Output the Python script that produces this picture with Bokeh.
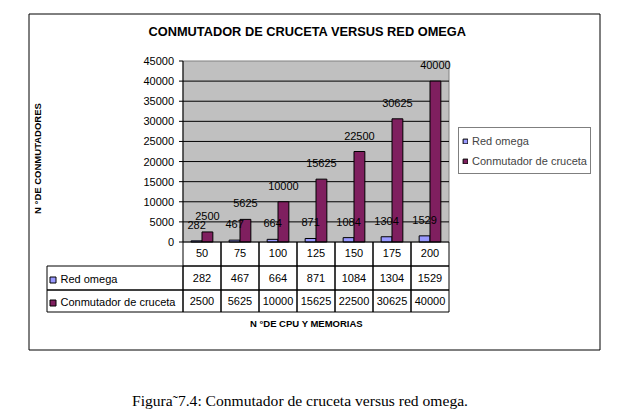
import math
from bokeh.plotting import figure
from bokeh.core.properties import value
from bokeh.models import (ColumnDataSource, Range1d, LabelSet, Label, Legend, LegendItem)
from bokeh.transform import dodge
from bokeh.embed import file_html
from bokeh.resources import INLINE

# ---------------- data ----------------
categories = ["50", "75", "100", "125", "150", "175", "200"]
red_omega = [282, 467, 664, 871, 1084, 1304, 1529]
crossbar = [2500, 5625, 10000, 15625, 22500, 30625, 40000]
y_ticks = [0, 5000, 10000, 15000, 20000, 25000, 30000, 35000, 40000, 45000]
grid_ticks = [5000, 10000, 15000, 20000, 25000, 30000, 35000, 40000]
series_names = ["Red omega", "Conmutador de cruceta"]
title_text = "CONMUTADOR DE CRUCETA VERSUS RED OMEGA"
y_title = "N \u00b0DE CONMUTADORES"
x_title = "N \u00b0DE CPU Y MEMORIAS"
caption_text = "Figura\u02dc7.4: Conmutador de cruceta versus red omega."

# ---------------- layout / style ----------------
W, H = 625, 416
PL, PR, PT, PB = 182.5, 448.5, 60.5, 241.5     # plot area in canvas pixels
YMAX = y_ticks[-1]
BLUE = "#9999FF"
PURPLE = "#7F1F5F"
FONT = "Liberation Sans"
SERIF = "Liberation Serif"
BAR_W = 1 / 3.5
n = len(categories)

# the frame covers the whole canvas; default ranges are canvas pixels (y downwards)
p = figure(width=W, height=H, x_range=Range1d(0, W), y_range=Range1d(H, 0),
           output_backend="svg", toolbar_location=None,
           x_axis_type=None, y_axis_type=None, min_border=0)
p.outline_line_color = None
p.background_fill_color = "white"
p.border_fill_color = "white"

# data ranges mapped onto the plot-area rectangle
kx = n / (PR - PL)
ky = YMAX / (PB - PT)
p.extra_x_ranges = {"cat": Range1d(-PL * kx, (W - PL) * kx)}
p.extra_y_ranges = {"val": Range1d((PB - H) * ky, PB * ky)}
CV = dict(x_range_name="cat", y_range_name="val")

src = ColumnDataSource(dict(
    cat=categories, xc=[i + 0.5 for i in range(n)], red=red_omega, cross=crossbar,
    red_s=[str(v) for v in red_omega], cross_s=[str(v) for v in crossbar],
))
tick_src = ColumnDataSource(dict(y=y_ticks, s=[str(t) for t in y_ticks]))
grid_src = ColumnDataSource(dict(y=grid_ticks))

# plot area
p.quad(left=0, right=n, bottom=0, top=YMAX, fill_color="#C0C0C0",
       line_color="#808080", line_width=1, **CV)
# gridlines
p.segment(x0=0, x1=n, y0="y", y1="y", source=grid_src, line_color="black",
          line_width=1, **CV)

# bars
r1 = p.vbar(x=dodge("xc", -BAR_W / 2), top="red", width=BAR_W, source=src,
            fill_color=BLUE, line_color="black", line_width=1, **CV)
r2 = p.vbar(x=dodge("xc", BAR_W / 2), top="cross", width=BAR_W, source=src,
            fill_color=PURPLE, line_color="black", line_width=1, **CV)

# value axis (line, ticks, labels)
p.segment(x0=0, x1=0, y0=0, y1=YMAX, line_color="black", line_width=1, **CV)
p.segment(x0=PL - 4, x1=PL, y0="y", y1="y", source=tick_src, line_color="black",
          line_width=1, y_range_name="val")
p.text(x=PL - 9, y="y", text="s", source=tick_src, text_align="right",
       text_baseline="middle", text_font=value(FONT), text_font_size="11px",
       text_color="black", y_range_name="val")

# data labels above bars
for xoff, col in ((-BAR_W / 2, "red"), (BAR_W / 2, "cross")):
    p.add_layout(LabelSet(x=dodge("xc", xoff), y=col, text=col + "_s", source=src,
                          y_offset=16, text_align="center", text_baseline="middle",
                          text_font=value(FONT), text_font_size="11px",
                          text_color="black", **CV))

# legend box at the right
legend = Legend(items=[LegendItem(label=series_names[0], renderers=[r1]),
                       LegendItem(label=series_names[1], renderers=[r2])],
                location=(458, H - 174), orientation="vertical",
                border_line_color="black", border_line_width=1,
                background_fill_color="white", background_fill_alpha=1,
                padding=3, spacing=1, margin=0, label_height=19,
                glyph_width=6, glyph_height=6, label_standoff=4,
                label_text_font=FONT, label_text_font_size="11px")
p.add_layout(legend, "center")

# ---------------- data table below the plot ----------------
ROW_Y = [241.5, 265.5, 289.5, 311.5]
TBL_L = 46.5
idx = list(range(n))
idx1 = [i + 1 for i in idx]
for r in range(3):
    p.quad(left=idx, right=idx1, top=ROW_Y[r], bottom=ROW_Y[r + 1], fill_color=None,
           line_color="black", line_width=1, x_range_name="cat")
for r in (1, 2):
    p.quad(left=TBL_L, right=PL, top=ROW_Y[r], bottom=ROW_Y[r + 1], fill_color=None,
           line_color="black", line_width=1)
# legend keys inside table
p.quad(left=[49.5, 49.5], right=[55.5, 55.5], top=[276.5, 299.5],
       bottom=[282.5, 305.5], fill_color=[BLUE, PURPLE], line_color="black", line_width=1)

row_text_y = [252, 277, 300]
for ycen, col in zip(row_text_y, ("cat", "red_s", "cross_s")):
    p.add_layout(LabelSet(x="xc", y=ycen, text=col, source=src, x_range_name="cat",
                          text_align="center", text_baseline="middle",
                          text_font=value(FONT), text_font_size="11px",
                          text_color="black"))
for name, ycen in zip(series_names, (278, 301)):
    p.add_layout(Label(x=60, y=ycen, text=name, text_align="left",
                       text_baseline="middle", text_font=FONT,
                       text_font_size="11px", text_color="black"))

# ---------------- titles, frame, caption ----------------
p.add_layout(Label(x=307, y=31, text=title_text, text_align="center",
                   text_baseline="middle", text_font=FONT, text_font_style="bold",
                   text_font_size="12.8px", text_color="black"))
p.add_layout(Label(x=306, y=323, text=x_title, text_align="center",
                   text_baseline="middle", text_font=FONT, text_font_style="bold",
                   text_font_size="9.5px", text_color="black"))
p.add_layout(Label(x=37, y=158, text=y_title, angle=math.pi / 2, text_align="center",
                   text_baseline="middle", text_font=FONT, text_font_style="bold",
                   text_font_size="9.5px", text_color="black"))
p.quad(left=28.5, right=599.5, top=13.5, bottom=349.5, fill_color=None,
       line_color="black", line_width=1)
p.add_layout(Label(x=299.5, y=400, text=caption_text, text_align="center",
                   text_baseline="middle", text_font=SERIF,
                   text_font_size="15.6px", text_color="black"))

open("out.html", "w").write(file_html(p, INLINE))
